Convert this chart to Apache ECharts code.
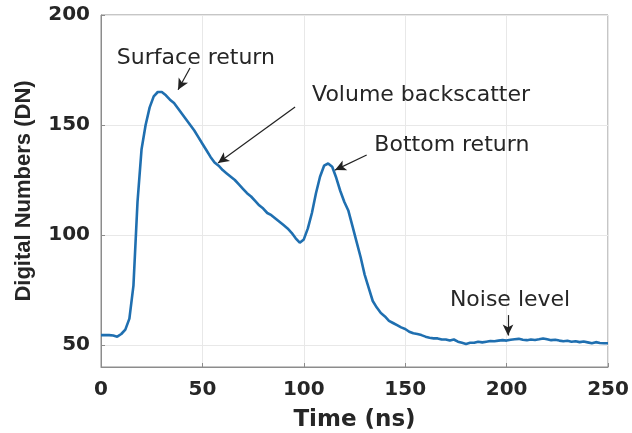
<!DOCTYPE html>
<html>
<head>
<meta charset="utf-8">
<script src="https://cdn.jsdelivr.net/npm/echarts@6/dist/echarts.min.js"></script>
<style>html,body{margin:0;padding:0;background:#fff}#c{width:632px;height:433px}</style>
</head>
<body>
<div id="c"></div>
<script>
// Time axis (ns)
var times = [0,2,4,6,8,10,12,14,16,18,20,22,24,26,28,30,32,34,36,38,40,42,44,46,48,50,52,54,56,58,60,62,64,66,68,70,72,74,76,78,80,82,84,86,88,90,92,94,96,98,100,102,104,106,108,110,112,114,116,118,120,122,124,126,128,130,132,134,136,138,140,142,144,146,148,150,152,154,156,158,160,162,164,166,168,170,172,174,176,178,180,182,184,186,188,190,192,194,196,198,200,202,204,206,208,210,212,214,216,218,220,222,224,226,228,230,232,234,236,238,240,242,244,246,248,250];
// Digital numbers (DN)
var dn = [54.5,54.5,54.5,54.3,53.8,55,57,62,77,115,139,150,158,163,165,165,163.5,161.5,160,157.5,155,152.5,150,147.5,144.5,141.5,138.5,135.5,133,131.5,129.5,128,126.5,125,123,121,119,117.5,115.5,113.5,112,110,109,107.5,106,104.5,103,101,98.5,96.5,98,103,110,119,126.5,131.5,132.5,131,126,120,115,111,104,97,90,82,76,70,67,64.5,63,61,60,59,58,57.3,56,55.3,55,54.5,53.8,53.3,53,53,52.5,52.5,52,52.5,51.5,51,50.5,51,51,51.5,51.2,51.5,51.8,51.7,52,52.2,52,52.4,52.6,52.8,52.4,52.2,52.5,52.3,52.6,53,52.6,52.2,52.4,52,51.7,51.9,51.5,51.7,51.3,51.6,51.2,50.8,51.3,50.9,50.8,50.8];
var xTicks = [0,50,100,150,200,250];
var yTicks = [50,100,150,200];
// Annotations: text, text anchor [t, DN], arrow start, arrow end
var annTexts = ['Surface return','Volume backscatter','Bottom return','Noise level'];
var annTextPos = [[46.8,180.5],[157.8,163.6],[173,140.9],[201.7,70.5]];
var annFrom = [[43.9,175.9],[95.7,158.2],[131,136.4],[200.7,63.6]];
var annTo = [[38,166],[57.7,132.7],[115.4,129.5],[200.7,54.3]];

var pts = times.map(function(t,i){return [t, dn[i]];});
var mlData = annFrom.map(function(f,i){return [{coord:f},{coord:annTo[i]}];});
var mpData = annTexts.map(function(s,i){return {name:s, coord:annTextPos[i]};});

var chart = echarts.init(document.getElementById('c'), null, {renderer:'canvas'});
chart.setOption({
  animation:false,
  backgroundColor:'#fff',
  grid:{left:101, top:15, width:507, height:352, containLabel:false, outerBoundsMode:'none', show:true, borderColor:'#8c8c8c', borderWidth:1},
  xAxis:{
    type:'value', min:0, max:250, interval:50,
    name:'Time (ns)', nameLocation:'middle', nameGap:42,
    nameTextStyle:{fontFamily:'DejaVu Sans', fontWeight:'bold', fontSize:23, color:'#262626'},
    axisLine:{show:true, lineStyle:{color:'#8c8c8c'}},
    axisTick:{show:true, inside:true, length:4, lineStyle:{color:'#8c8c8c'}},
    axisLabel:{fontFamily:'DejaVu Sans', fontWeight:'bold', fontSize:20, color:'#262626', margin:13},
    splitLine:{show:true, lineStyle:{color:'#e8e8e8', width:1}}
  },
  yAxis:{
    type:'value', min:40, max:200,
    name:'Digital Numbers (DN)', nameLocation:'middle', nameGap:66,
    nameTextStyle:{fontFamily:'Liberation Sans', fontWeight:'bold', fontSize:22, color:'#262626'},
    axisLine:{show:true, lineStyle:{color:'#8c8c8c'}},
    axisTick:{show:true, inside:true, length:4, customValues:yTicks, lineStyle:{color:'#8c8c8c'}},
    axisLabel:{customValues:yTicks, fontFamily:'DejaVu Sans', fontWeight:'bold', fontSize:20, color:'#262626', margin:11},
    splitLine:{show:true, lineStyle:{color:'#e8e8e8', width:1}}
  },
  series:[{
    type:'line', data:pts, showSymbol:false, smooth:false,
    lineStyle:{color:'#1f6fb0', width:2.6},
    itemStyle:{color:'#1f6fb0'},
    markLine:{
      silent:true, symbol:['none','arrow'], symbolSize:[8,11],
      lineStyle:{color:'#222', width:1.2, type:'solid'},
      itemStyle:{color:'#222'},
      label:{show:false}, data:mlData
    },
    markPoint:{
      silent:true, symbol:'circle', symbolSize:1,
      itemStyle:{color:'rgba(0,0,0,0)'},
      label:{show:true, position:'inside', formatter:'{b}', fontFamily:'DejaVu Sans', fontSize:22, color:'#262626'},
      data:mpData
    }
  }]
});
</script>
</body>
</html>
